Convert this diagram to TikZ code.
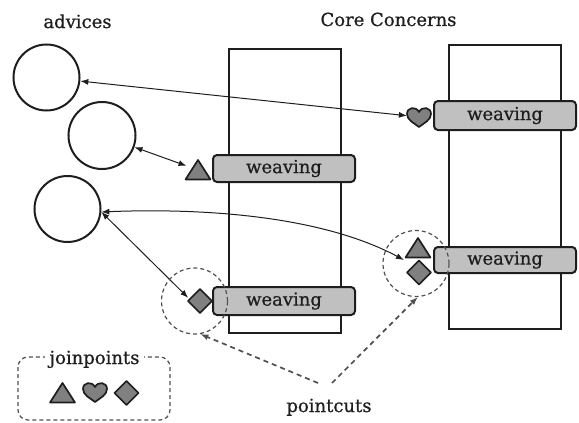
\documentclass[tikz,border=0pt]{standalone}
\usepackage{fontspec}
\setmainfont{DejaVu Serif}
\newfontfamily\diagfont{DejaVu Serif}[FakeBold=0.7]
\usetikzlibrary{arrows.meta}

\definecolor{ink}{RGB}{30,30,30}
\definecolor{barfill}{RGB}{192,192,192}
\definecolor{jpfill}{RGB}{128,128,128}
\definecolor{dashink}{RGB}{80,80,80}

\tikzset{
  txt/.style={font=\diagfont\fontsize{18}{21}\selectfont, text=ink, inner sep=0},
  advice/.style={circle, draw=ink, line width=2pt, minimum size=66pt, inner sep=0},
  column/.style={draw=ink, line width=2.2pt, minimum width=112pt, minimum height=284pt, inner sep=0},
  weave/.style={draw=ink, fill=barfill, line width=2pt, rounded corners=4pt,
    minimum width=142pt, minimum height=27pt, inner sep=0, txt},
  jpanchor/.style={circle, minimum size=24pt, inner sep=0},
  jpshape/.style={draw=ink, fill=jpfill, line width=1.7pt, line join=round},
  link/.style={draw=ink, line width=1pt,
    {Latex[length=8pt,width=6pt]}-{Latex[length=8pt,width=6pt]}},
  pcring/.style={circle, draw=dashink, line width=1.2pt, dash pattern=on 4pt off 3pt,
    minimum size=66pt, inner sep=0},
  pclink/.style={draw=dashink, line width=1.7pt, dash pattern=on 5pt off 4pt,
    -{Latex[length=8pt,width=6pt]}},
  legendbox/.style={draw=dashink, line width=1.2pt, dash pattern=on 4pt off 3pt,
    rounded corners=10pt},
  pics/jptri/.style={code={\draw[jpshape] (-12.5,9.5) -- (12.5,9.5) -- (0,-10) -- cycle;}},
  pics/jpdiamond/.style={code={\draw[jpshape] (0,-12) -- (12,0) -- (0,12) -- (-12,0) -- cycle;}},
  pics/jpheart/.style={code={\draw[jpshape] (0,10)
      .. controls (-5,6) and (-12,3) .. (-12,-3)
      .. controls (-12,-10) and (-3,-11) .. (0,-5)
      .. controls (3,-11) and (12,-10) .. (12,-3)
      .. controls (12,3) and (5,6) .. (0,10) -- cycle;}},
}

\begin{document}
\begin{tikzpicture}[x=1pt, y=-1pt]
  \useasboundingbox (0,0) rectangle (579,423);

  % headings
  \node[txt, anchor=base] (advh) at (77.5,28) {advices};
  \node[txt, anchor=base] (coreh) at (388.5,26) {Core Concerns};

  % core concern columns
  \node[column] (colL) at (285,191) {};
  \node[column] (colR) at (505,187) {};

  % weaving bars
  \node[weave] (wL1) at (284,168.5) {weaving};
  \node[weave, minimum height=28pt] (wL2) at (284,301) {weaving};
  \node[weave, minimum height=29pt] (wR1) at (505,115.5) {weaving};
  \node[weave, minimum height=26pt] (wR2) at (505,260) {weaving};

  % advices
  \node[advice] (adv1) at (46.5,77.5) {};
  \node[advice, minimum size=67pt] (adv2) at (102,135.5) {};
  \node[advice] (adv3) at (67.5,209) {};

  % joinpoints at the weaving bars
  \node[jpanchor] (hj) at (419,117) {};
  \pic at (hj) {jpheart};
  \node[jpanchor] (tj1) at (198,170) {};
  \pic at (tj1) {jptri};
  \node[jpanchor] (dj1) at (200,301) {};
  \pic at (dj1) {jpdiamond};
  \node[jpanchor] (tj2) at (418,248) {};
  \pic at (tj2) {jptri};
  \node[jpanchor] (dj2) at (419,272.5) {};
  \pic at (dj2) {jpdiamond};
  \coordinate (j2) at (404,260);

  % advice <-> joinpoint links
  \draw[link] (adv1) -- (hj);
  \draw[link] (adv2) -- (tj1);
  \draw[link] (adv3.-5) -- (dj1.165);
  \draw[link] (adv3.-5) .. controls (200,208) and (320,215) .. (j2);

  % pointcuts
  \node[pcring] (pcL) at (194.5,301) {};
  \node[pcring] (pcR) at (416,263.5) {};
  \node[txt, anchor=base] (pch) at (329,412) {pointcuts};
  \coordinate (pcA) at (318,383);
  \coordinate (pcB) at (332,383);
  \draw[pclink] (pcA) -- (pcL.-80);
  \draw[pclink] (pcB) -- (pcR.-87);

  % joinpoint legend
  \draw[legendbox] (18,357) rectangle (170,420);
  \node[txt, anchor=base, fill=white, inner xsep=5pt, inner ysep=2pt] (jph) at (94.5,364) {joinpoints};
  \node[jpanchor] (lt) at (62.5,393) {};
  \pic at (lt) {jptri};
  \node[jpanchor] (lh) at (95,392) {};
  \pic at (lh) {jpheart};
  \node[jpanchor] (ld) at (126.5,393) {};
  \pic at (ld) {jpdiamond};
\end{tikzpicture}
\end{document}
